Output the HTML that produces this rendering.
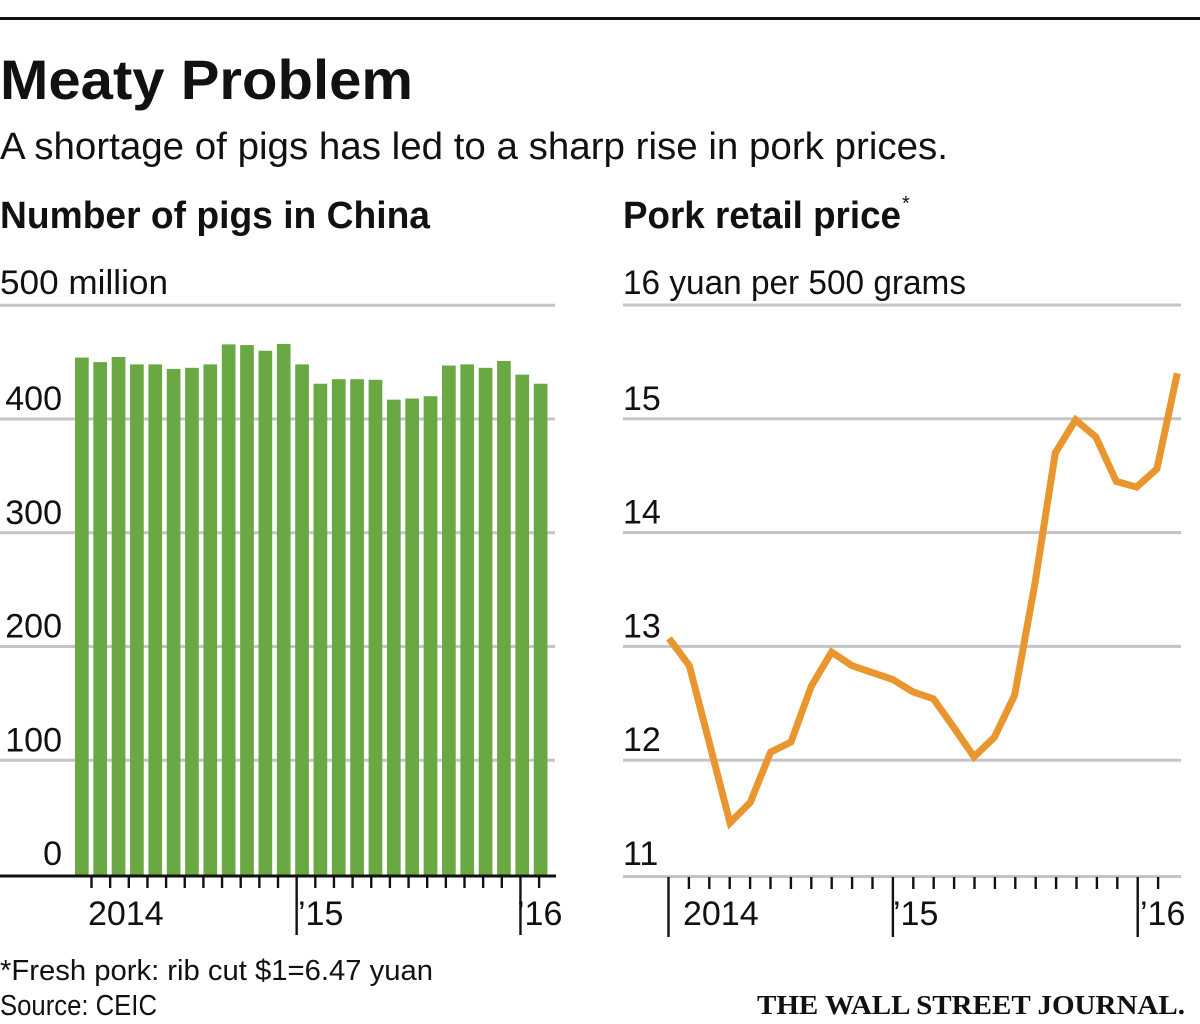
<!DOCTYPE html>
<html><head><meta charset="utf-8"><style>
html,body{margin:0;padding:0;background:#fff;}
svg{display:block;font-family:"Liberation Sans Narrow","Liberation Sans",sans-serif;}
</style></head><body>
<svg id="s" width="1200" height="1024" viewBox="0 0 1200 1024">
<rect x="0" y="17" width="1200" height="3" fill="#111"/>
<text x="0" y="99" font-size="56" font-weight="bold" textLength="413" lengthAdjust="spacingAndGlyphs" fill="#111">Meaty Problem</text>
<text x="0" y="159" font-size="38" textLength="948" lengthAdjust="spacingAndGlyphs" fill="#111">A shortage of pigs has led to a sharp rise in pork prices.</text>
<text x="0" y="228" font-size="38" font-weight="bold" textLength="430" lengthAdjust="spacingAndGlyphs" fill="#111">Number of pigs in China</text>
<text x="623" y="228" font-size="38" font-weight="bold" textLength="278" lengthAdjust="spacingAndGlyphs" fill="#111">Pork retail price</text>
<text x="902" y="210" font-size="20" fill="#111">*</text>
<text x="0" y="294" font-size="34" textLength="168" lengthAdjust="spacingAndGlyphs" fill="#111">500 million</text>
<text x="623" y="294" font-size="34" textLength="343" lengthAdjust="spacingAndGlyphs" fill="#111">16 yuan per 500 grams</text>
<g id="left"></g>
<g id="right"></g>
<text x="0" y="980" font-size="29" textLength="433" lengthAdjust="spacingAndGlyphs" fill="#111">*Fresh pork: rib cut   $1=6.47 yuan</text>
<text x="0" y="1015" font-size="29" textLength="157" lengthAdjust="spacingAndGlyphs" fill="#111">Source: CEIC</text>
<text x="757" y="1014" font-size="27" font-weight="bold" font-family="Liberation Serif, serif" textLength="428" lengthAdjust="spacingAndGlyphs" fill="#111">THE WALL STREET JOURNAL.</text>
</svg>
<script>
const pigValues = [454,450,454.5,448,448,444,445,448,465.6,465,460,466,448,431,435,435,434.5,417,418,420,447,448,445,451,439,431];
const pigTicks = [0,100,200,300,400];
const priceValues = [13.07,12.83,12.14,11.45,11.63,12.07,12.16,12.65,12.95,12.83,12.77,12.71,12.60,12.54,12.29,12.03,12.20,12.57,13.55,14.70,14.99,14.84,14.45,14.40,14.56,15.40];
const priceTicks = [11,12,13,14,15];
const yearLabels = ["2014","\u201915","\u201916"];

const NS="http://www.w3.org/2000/svg";
function mk(tag, attrs, parent){const e=document.createElementNS(NS,tag);for(const k in attrs)e.setAttribute(k,attrs[k]);parent.appendChild(e);return e;}
const L=document.getElementById('left'), R=document.getElementById('right');

// left chart
const yL=v=>874-v*(455/400);
[...pigTicks,500].forEach(t=>{
  if(t===0)return;
  const g=mk('rect',{x:0,y:yL(t)-1.5,width:555,height:3,fill:'#c4c4c4'},L);
  
  
});
pigValues.forEach((v,i)=>{
  const b=mk('rect',{x:75+i*18.35,y:yL(v),width:13.7,height:yL(0)-yL(v)+2,fill:'#6aa844'},L);
  
  
});
pigTicks.forEach(t=>{
  const tx=mk('text',{x:62,y:yL(t)-9,'font-size':34,'text-anchor':'end',fill:'#111'},L);
  tx.textContent=t;
  
  
});
const ax=mk('rect',{x:0,y:874.5,width:556,height:3,fill:'#111'},L);


for(let i=0;i<25;i++){
  const major=(i===11||i===23);
  const x=91.5+i*18.65;
  const t=mk('rect',{x:x-1.2,y:876,width:2.4,height:major?59:12,fill:'#111'},L);
  
  
}
[[88,0],[298,1],[517,2]].forEach(([x,k])=>{
  const tx=mk('text',{x:x,y:925,'font-size':34,fill:'#111'},L);
  tx.textContent=yearLabels[k];
  
  
});

// right chart
const yR=v=>874-(v-11)*113.8;
const xR=i=>669+i*20.33;
[12,13,14,15,16].forEach(t=>{
  const g=mk('rect',{x:623,y:yR(t)-1.5,width:558,height:3,fill:'#c4c4c4'},R);
  
  
});
const rax=mk('rect',{x:623,y:875,width:558,height:3,fill:'#c4c4c4'},R);


priceTicks.forEach(t=>{
  const tx=mk('text',{x:623,y:yR(t)-9,'font-size':34,fill:'#111'},R);
  tx.textContent=t;
  
  
});
for(let i=0;i<25;i++){
  const major=(i===0||i===11||i===23);
  const x=668.5+i*20.4;
  const t=mk('rect',{x:x-1.2,y:877,width:2.4,height:major?60:12,fill:'#111'},R);
  
  
}
[[683,0],[893,1],[1140,2]].forEach(([x,k])=>{
  const tx=mk('text',{x:x,y:925,'font-size':34,fill:'#111'},R);
  tx.textContent=yearLabels[k];
  
  
});
const pts=priceValues.map((v,i)=>xR(i).toFixed(1)+','+yR(v).toFixed(1)).join(' ');
const line=mk('polyline',{points:pts,fill:'none',stroke:'#e9962f','stroke-width':7,'stroke-linejoin':'miter','stroke-miterlimit':3},R);


</script>
</body></html>
